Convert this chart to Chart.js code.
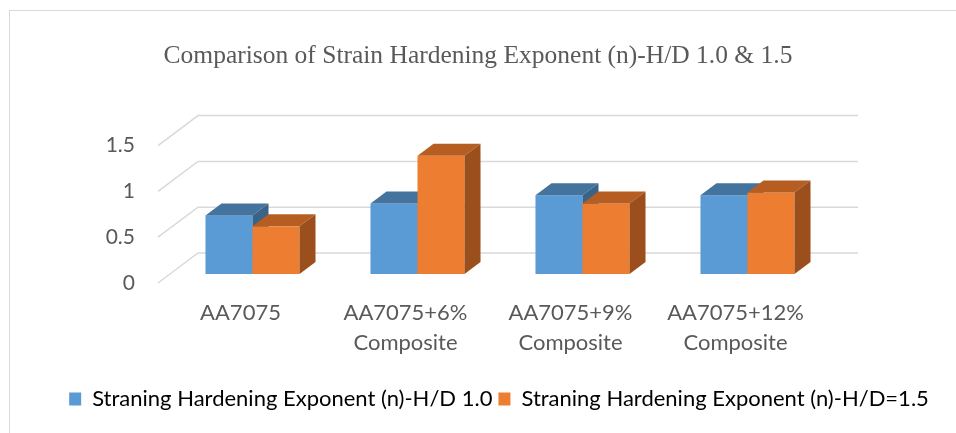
<!DOCTYPE html>
<html>
<head>
<meta charset="utf-8">
<script src="https://cdn.jsdelivr.net/npm/chart.js@4/dist/chart.umd.min.js"></script>
<style>
    html, body { margin: 0; padding: 0; background: #fff; }
    #wrap { position: relative; width: 956px; height: 433px; overflow: hidden; }
    #frame {
        position: absolute; left: 9px; top: 10px; right: -10px; bottom: -10px;
        border-left: 1.5px solid #d9d9d9; border-top: 1.5px solid #d9d9d9;
        pointer-events: none;
    }
    canvas { position: absolute; left: 0; top: 0; }
</style>
</head>
<body>
<div id="wrap">
    <canvas id="chart" width="956" height="433"></canvas>
    <div id="frame"></div>
</div>
<script>
// Data
const categories = [
    ['AA7075'],
    ['AA7075+6%', 'Composite'],
    ['AA7075+9%', 'Composite'],
    ['AA7075+12%', 'Composite']
];
const seriesNames = [
    'Straning Hardening Exponent (n)-H/D 1.0',
    'Straning Hardening Exponent (n)-H/D=1.5'
];
const hd10 = [0.64, 0.77, 0.86, 0.86];
const hd15 = [0.52, 1.29, 0.77, 0.89];
const yTicks = [0, 0.5, 1, 1.5];

// Face colors: front, top, side
const faceColors = [
    { front: '#5B9BD5', top: '#44739E', side: '#3A6388' },
    { front: '#ED7D31', top: '#B65E22', side: '#9A4F1C' }
];

// 3D depth: whole floor runs +40,-30; bars sit in the middle of it
const DEPTH_X = 40, DEPTH_Y = -30;
const BAR_FRONT = 0.3, BAR_BACK = 0.7;
const LEGEND_SHIFT = 21;

const pseudo3d = {
    id: 'pseudo3d',
    afterLayout(chart) {
        // legend sits a bit right of center in the reference
        if (chart.legend) {
            chart.legend.left += LEGEND_SHIFT;
            chart.legend.right += LEGEND_SHIFT;
        }
    },
    beforeDatasetsDraw(chart) {
        const ctx = chart.ctx;
        const area = chart.chartArea;
        const y = chart.scales.y;
        ctx.save();
        ctx.strokeStyle = '#d9d9d9';
        ctx.lineWidth = 1.5;
        yTicks.forEach(v => {
            const py = y.getPixelForValue(v);
            ctx.beginPath();
            ctx.moveTo(area.left, py);
            ctx.lineTo(area.left + DEPTH_X, py + DEPTH_Y);
            ctx.lineTo(area.right + DEPTH_X, py + DEPTH_Y);
            ctx.stroke();
        });
        ctx.restore();
    },
    afterDatasetsDraw(chart) {
        const ctx = chart.ctx;
        const fx = DEPTH_X * BAR_FRONT, fy = DEPTH_Y * BAR_FRONT;
        const dx = DEPTH_X * (BAR_BACK - BAR_FRONT), dy = DEPTH_Y * (BAR_BACK - BAR_FRONT);
        const metas = chart.data.datasets.map((d, i) => chart.getDatasetMeta(i));
        ctx.save();
        categories.forEach((c, idx) => {
            metas.forEach((meta, di) => {
                const bar = meta.data[idx];
                const col = faceColors[di];
                const x0 = bar.x - bar.width / 2 + fx;
                const x1 = bar.x + bar.width / 2 + fx;
                const yt = bar.y + fy;
                const yb = bar.base + fy;

                ctx.fillStyle = col.front;
                ctx.fillRect(x0, yt, x1 - x0, yb - yt);

                ctx.fillStyle = col.top;
                ctx.beginPath();
                ctx.moveTo(x0, yt);
                ctx.lineTo(x1, yt);
                ctx.lineTo(x1 + dx, yt + dy);
                ctx.lineTo(x0 + dx, yt + dy);
                ctx.closePath();
                ctx.fill();

                ctx.fillStyle = col.side;
                ctx.beginPath();
                ctx.moveTo(x1, yt);
                ctx.lineTo(x1 + dx, yt + dy);
                ctx.lineTo(x1 + dx, yb + dy);
                ctx.lineTo(x1, yb);
                ctx.closePath();
                ctx.fill();
            });
        });
        ctx.restore();
    }
};

const labelFont = { family: 'Lato, "Open Sans", sans-serif', size: 22 };

new Chart(document.getElementById('chart'), {
    type: 'bar',
    data: {
        labels: categories,
        datasets: [
            // flat bars are hidden, the plugin paints the boxes from their geometry
            { label: seriesNames[0], data: hd10, backgroundColor: 'rgba(0,0,0,0)', borderWidth: 0 },
            { label: seriesNames[1], data: hd15, backgroundColor: 'rgba(0,0,0,0)', borderWidth: 0 }
        ]
    },
    options: {
        responsive: false,
        animation: false,
        categoryPercentage: 0.57,
        barPercentage: 1,
        layout: { padding: { top: 0, left: 0, right: 0, bottom: 13 } },
        plugins: {
            title: {
                display: true,
                text: 'Comparison of Strain Hardening Exponent (n)-H/D 1.0 & 1.5',
                color: '#595959',
                font: { family: '"Liberation Serif", "Times New Roman", serif', size: 25.5, weight: 'normal', lineHeight: 1.2 },
                padding: { top: 41, bottom: 74 }
            },
            legend: {
                position: 'bottom',
                labels: {
                    color: '#595959',
                    font: labelFont,
                    boxWidth: 12,
                    boxHeight: 13,
                    padding: 6,
                    generateLabels(chart) {
                        return seriesNames.map((name, i) => ({
                            text: name,
                            fillStyle: faceColors[i].front,
                            strokeStyle: faceColors[i].front,
                            lineWidth: 0,
                            datasetIndex: i
                        }));
                    }
                }
            },
            tooltip: { enabled: false }
        },
        scales: {
            x: {
                grid: { display: false, drawTicks: false },
                border: { display: false },
                ticks: { color: '#595959', font: { ...labelFont, lineHeight: 1.35 }, padding: 15, maxRotation: 0, autoSkip: false },
                afterFit(scale) { scale.height = 99; }
            },
            y: {
                min: 0,
                max: 1.5,
                grid: { display: false, drawTicks: false },
                border: { display: false },
                ticks: {
                    stepSize: 0.5,
                    color: '#595959',
                    font: { family: 'Lato, "Open Sans", sans-serif', size: 21 },
                    padding: 23,
                    callback: v => String(v)
                },
                afterFit(scale) { scale.width = 158; }
            },
            // empty axis that only reserves the space right of the front plane
            yr: {
                position: 'right',
                grid: { display: false, drawTicks: false },
                border: { display: false },
                ticks: { display: false },
                afterFit(scale) { scale.width = 138; }
            }
        }
    },
    plugins: [pseudo3d]
});
</script>
</body>
</html>
